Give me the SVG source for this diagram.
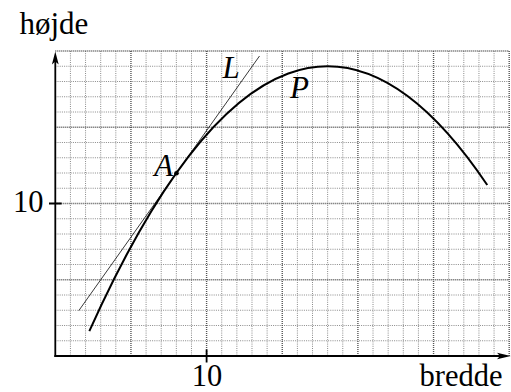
<svg xmlns="http://www.w3.org/2000/svg" width="511" height="392" viewBox="0 0 511 392">
<style>
.minor{fill:none;stroke:#8a8a8a;stroke-width:1;stroke-dasharray:1 1.2}
.major{fill:none;stroke:#555;stroke-width:1.4;stroke-dasharray:1 1}
.axis{fill:none;stroke:#000;stroke-width:1.8}
.head{fill:#000;stroke:none}
</style>
<rect width="511" height="392" fill="#fff"/>
<g id="grid">
<path class="minor" d="M70.43 51V356M85.56 51V356M100.69 51V356M115.82 51V356M146.08 51V356M161.21 51V356M176.34 51V356M191.47 51V356M221.73 51V356M236.86 51V356M251.99 51V356M267.12 51V356M297.38 51V356M312.51 51V356M327.64 51V356M342.77 51V356M373.03 51V356M388.16 51V356M403.29 51V356M418.42 51V356M448.68 51V356M463.81 51V356M478.94 51V356M494.07 51V356M55.3 340.75H509.2M55.3 325.5H509.2M55.3 310.25H509.2M55.3 295H509.2M55.3 264.5H509.2M55.3 249.25H509.2M55.3 234H509.2M55.3 218.75H509.2M55.3 188.25H509.2M55.3 173H509.2M55.3 157.75H509.2M55.3 142.5H509.2M55.3 112H509.2M55.3 96.75H509.2M55.3 81.5H509.2M55.3 66.25H509.2"/>
<path class="major" d="M130.95 51V356M206.6 51V356M282.25 51V356M357.9 51V356M433.55 51V356M509.2 51V356M55.3 279.75H509.2M55.3 203.5H509.2M55.3 127.25H509.2M55.3 51H509.2"/>
</g>
<g id="axes">
<path class="axis" d="M55.3 357V60"/>
<path class="head" d="M55.3 51.5L58.7 64.5L55.3 61.5L51.9 64.5Z"/>
<path class="axis" d="M54.4 356H502"/>
<path class="head" d="M510.8 356L497 352.8L500 356L497 359.2Z"/>
<path class="axis" stroke-width="1.5" d="M206.6 349.5V362.5M49 203.5H61.6"/>
</g>
<g id="tangent-L">
<path fill="none" stroke="#222" stroke-width="0.9" d="M78.75 310.7L259.5 56"/>
</g>
<g id="curve-P">
<path fill="none" stroke="#000" stroke-width="2" d="M89.34 331.05Q288.3 -111.14 487.26 185.06"/>
</g>
<g id="point-A">
<circle cx="176.5" cy="173.2" r="2.3" fill="#000"/>
</g>
<g id="labels" font-family="Liberation Serif, Times New Roman, serif" fill="#000">
<text x="19.5" y="34" font-size="31">højde</text>
<text x="419.5" y="386.3" font-size="30.5">bredde</text>
<text x="207" y="386.3" font-size="30.5" text-anchor="middle">10</text>
<text x="43.4" y="212.3" font-size="30.5" text-anchor="end">10</text>
<text x="222.5" y="77.5" font-size="31" font-style="italic">L</text>
<text x="154.3" y="175.5" font-size="31" font-style="italic">A</text>
<text x="290" y="97.5" font-size="31" font-style="italic">P</text>
</g>
</svg>
